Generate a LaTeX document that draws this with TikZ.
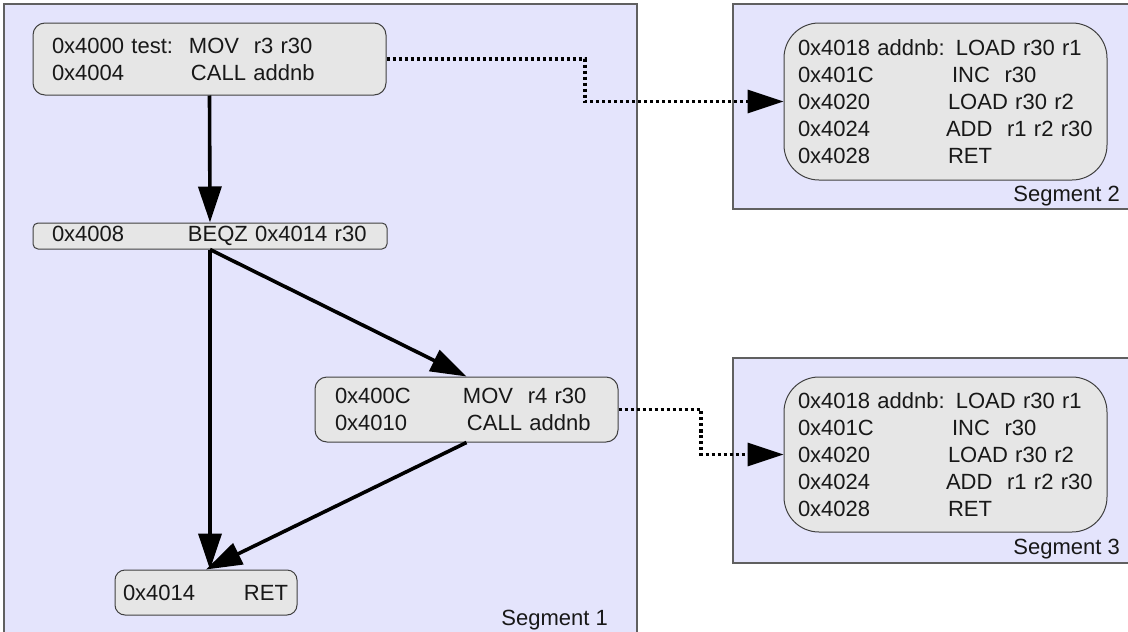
\documentclass[tikz,border=0pt]{standalone}
\usepackage{fontspec}
\setmainfont{Liberation Sans}
\usepackage{xcolor}
\usepackage{tikz}
\usetikzlibrary{arrows.meta,calc}

\definecolor{segfill}{RGB}{228,228,252}
\definecolor{boxfill}{RGB}{230,230,230}
\definecolor{boxline}{RGB}{64,64,64}
\definecolor{segline}{RGB}{96,96,96}
\definecolor{codetext}{RGB}{24,24,24}

% address column of a code line
\newcommand{\addrcol}[2][136pt]{\makebox[#1][l]{#2}}
% body of the addnb routine
\newcommand{\addnbcode}{0x4018 addnb: LOAD r30 r1\\
  \addrcol[154pt]{0x401C}INC\ \ r30\\
  \addrcol[150pt]{0x4020}LOAD r30 r2\\
  \addrcol[148pt]{0x4024}ADD\ \ r1 r2 r30\\
  \addrcol[150pt]{0x4028}RET}

\begin{document}
\begin{tikzpicture}[
    x=1pt, y=-1pt,
    font=\fontsize{22}{27}\selectfont,
    text=codetext,
    segment/.style={draw=segline, fill=segfill, line width=1.2pt},
    code/.style={rectangle, draw=boxline, fill=boxfill, line width=1pt, rounded corners=#1, align=left, inner ysep=0pt},
    code/.default=12pt,
    seglabel/.style={anchor=base east, inner sep=0pt},
    flow/.style={-{Triangle[length=36pt, width=23pt]}, line width=3.6pt},
    call/.style={-{Triangle[length=36pt, width=23pt]}, line width=3.4pt, dash pattern=on 3.4pt off 2.6pt}
]
\useasboundingbox (0,0) rectangle (1128,632);
\clip (0,0) rectangle (1128,632);
\fill[white] (0,0) rectangle (1128,632);

% Segments
\draw[segment] (4,4) rectangle (637,660);
\draw[segment] (733,4) rectangle (1160,209);
\draw[segment] (733,358) rectangle (1160,563);
\node[seglabel] (lab1) at (608,625) {Segment 1};
\node[seglabel] (lab2) at (1120,201) {Segment 2};
\node[seglabel] (lab3) at (1120,554) {Segment 3};

% Segment 1 blocks
\node[code, text width=315pt, inner xsep=19pt, minimum height=72pt] (n1) at (209.5,59)
  {\addrcol[137pt]{0x4000 test:}MOV\ \ r3 r30\\\addrcol[139pt]{0x4004}CALL addnb};
\node[code=5pt, text width=316pt, inner xsep=19pt, minimum height=26pt] (n2) at (210,236)
  {\addrcol{0x4008}BEQZ 0x4014 r30};
\node[code, text width=263pt, inner xsep=20pt, minimum height=65pt] (n3) at (466.5,409.5)
  {\addrcol[128pt]{0x400C}MOV\ \ r4 r30\\\addrcol[132pt]{0x4010}CALL addnb};
\node[code=10pt, text width=166pt, inner xsep=8pt, minimum height=45pt] (n4) at (206,592.5)
  {\addrcol[121pt]{0x4014}RET};

% Called routines
\node[code=35pt, text width=295pt, inner xsep=14pt, minimum height=157pt] (c2) at (945.5,101.5) {\addnbcode};
\node[code=35pt, text width=295pt, inner xsep=14pt, minimum height=155pt] (c3) at (945.5,454.5) {\addnbcode};

% Control flow
\draw[flow] (n1.south) -- (n2.north);
\draw[flow] (n2.south) -- (n2.south |- n4.north);
\draw[flow] (n2.south) -- (n3.north);
\draw[flow] (n3.south) -- (n4.north);

% Calls
\draw[call] (n1.east) -| ($(n1.east)!.5!(c2.west)$) |- (c2.west);
\draw[call] (n3.east) -| ($(n3.east)!.5!(c3.west)$) |- (c3.west);

\end{tikzpicture}
\end{document}
